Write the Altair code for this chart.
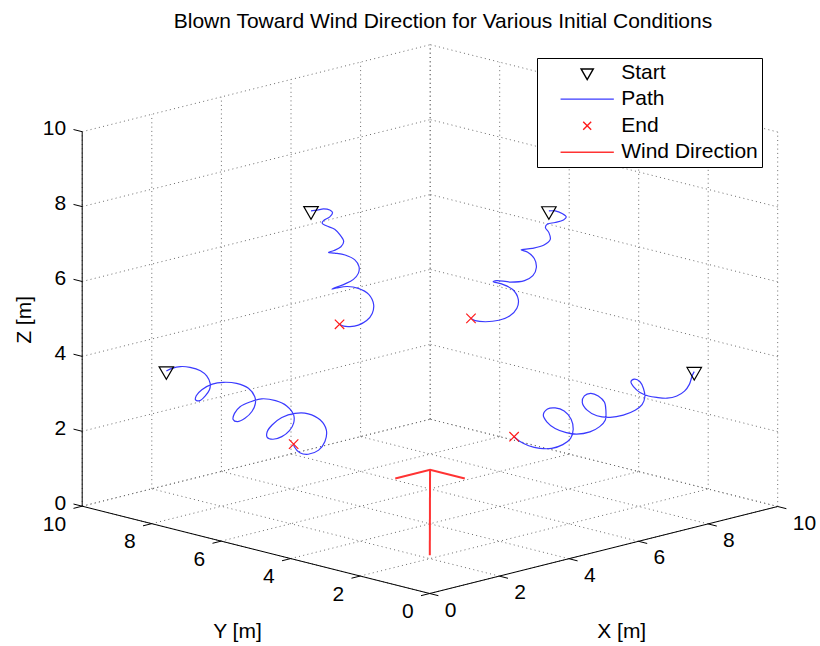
import altair as alt
import pandas as pd

FONT = "Liberation Sans"

TITLE = "Blown Toward Wind Direction for Various Initial Conditions"
TICKS = [0, 2, 4, 6, 8, 10]
TICK_LABELS = ["0", "2", "4", "6", "8", "10"]
AXIS_TITLES = ["X [m]", "Y [m]", "Z [m]"]
LEGEND_LABELS = ["Start", "Path", "End", "Wind Direction"]
LEGEND_COLORS = ["#000000", "#3a3aff", "#ff1a1a", "#ff3333"]

# ---- trajectories (metres) ----
PATH_A_X = [1.21, 1.29, 1.41, 1.55, 1.70, 1.79, 1.84, 1.83, 1.77, 1.69, 1.63, 1.64, 1.72, 1.87, 2.03, 2.22,
            2.39, 2.48, 2.49, 2.44, 2.34, 2.23, 2.17, 2.19, 2.27, 2.42, 2.58, 2.78, 2.94, 3.04, 3.04, 2.98,
            2.87, 2.74, 2.66, 2.66, 2.73, 2.87, 3.06, 3.25, 3.42, 3.51, 3.49, 3.40, 3.25, 3.13, 3.05, 3.04]
PATH_A_Y = [8.79, 8.71, 8.59, 8.45, 8.30, 8.21, 8.16, 8.17, 8.23, 8.31, 8.37, 8.36, 8.28, 8.13, 7.97, 7.78,
            7.61, 7.52, 7.51, 7.56, 7.66, 7.77, 7.83, 7.81, 7.73, 7.58, 7.42, 7.22, 7.06, 6.96, 6.96, 7.02,
            7.13, 7.26, 7.34, 7.34, 7.27, 7.13, 6.94, 6.75, 6.58, 6.49, 6.51, 6.60, 6.75, 6.87, 6.95, 6.96]
PATH_A_Z = [3.61, 3.68, 3.73, 3.71, 3.62, 3.48, 3.28, 3.11, 2.95, 2.82, 2.84, 2.95, 3.11, 3.26, 3.31, 3.28,
            3.15, 2.93, 2.75, 2.53, 2.35, 2.26, 2.32, 2.48, 2.66, 2.79, 2.87, 2.82, 2.68, 2.44, 2.22, 2.02,
            1.86, 1.79, 1.84, 1.99, 2.17, 2.37, 2.48, 2.47, 2.31, 2.04, 1.73, 1.50, 1.39, 1.43, 1.59, 1.66]

PATH_B_X = [3.29, 3.38, 3.47, 3.56, 3.60, 3.56, 3.47, 3.45, 3.51, 3.63, 3.71, 3.76, 3.72, 3.62, 3.54, 3.63,
            3.78, 3.92, 3.98, 3.97, 3.90, 3.78, 3.65, 3.59, 3.66, 3.81, 3.97, 4.12, 4.19, 4.17, 4.09, 3.97,
            3.85, 3.76, 3.70]
PATH_B_Y = [6.71, 6.62, 6.53, 6.44, 6.40, 6.44, 6.53, 6.55, 6.49, 6.37, 6.29, 6.24, 6.28, 6.38, 6.46, 6.37,
            6.22, 6.08, 6.02, 6.03, 6.10, 6.22, 6.35, 6.41, 6.34, 6.19, 6.03, 5.88, 5.81, 5.83, 5.91, 6.03,
            6.15, 6.24, 6.30]
PATH_B_Z = [7.89, 7.91, 7.94, 7.91, 7.84, 7.73, 7.63, 7.56, 7.49, 7.40, 7.24, 7.07, 6.93, 6.83, 6.78, 6.76,
            6.71, 6.58, 6.40, 6.22, 6.06, 5.94, 5.85, 5.80, 5.83, 5.87, 5.82, 5.66, 5.39, 5.15, 4.96, 4.84,
            4.80, 4.81, 4.86]

PATH_C_X = [6.71, 6.80, 6.90, 6.96, 6.92, 6.80, 6.69, 6.66, 6.71, 6.73, 6.64, 6.47, 6.31, 6.40, 6.50, 6.53,
            6.48, 6.36, 6.16, 5.96, 5.91, 6.03, 6.19, 6.27, 6.25, 6.15, 5.99, 5.80, 5.65, 5.59]
PATH_C_Y = [3.29, 3.20, 3.10, 3.04, 3.08, 3.20, 3.31, 3.34, 3.29, 3.27, 3.36, 3.53, 3.69, 3.60, 3.50, 3.47,
            3.52, 3.64, 3.84, 4.04, 4.09, 3.97, 3.81, 3.73, 3.75, 3.85, 4.01, 4.20, 4.35, 4.41]
PATH_C_Z = [7.89, 7.89, 7.82, 7.73, 7.65, 7.58, 7.54, 7.45, 7.31, 7.13, 6.98, 6.89, 6.85, 6.79, 6.62, 6.38,
            6.16, 6.03, 5.99, 6.03, 6.00, 5.94, 5.79, 5.53, 5.29, 5.09, 4.97, 4.93, 4.96, 5.02]

PATH_D_X = [8.80, 8.77, 8.73, 8.66, 8.55, 8.41, 8.26, 8.14, 8.02, 7.93, 7.89, 7.94, 8.02, 8.07, 8.09, 8.05,
            7.95, 7.78, 7.59, 7.40, 7.26, 7.19, 7.22, 7.31, 7.42, 7.51, 7.53, 7.52, 7.44, 7.30, 7.11, 6.96,
            6.80, 6.68, 6.63, 6.69, 6.80, 6.93, 7.03, 7.06, 7.02, 6.91, 6.75, 6.58, 6.42, 6.29, 6.21]
PATH_D_Y = [1.20, 1.23, 1.27, 1.34, 1.45, 1.59, 1.74, 1.86, 1.98, 2.07, 2.11, 2.06, 1.98, 1.93, 1.91, 1.95,
            2.05, 2.22, 2.41, 2.60, 2.74, 2.81, 2.78, 2.69, 2.58, 2.49, 2.47, 2.48, 2.56, 2.70, 2.89, 3.04,
            3.20, 3.32, 3.37, 3.31, 3.20, 3.07, 2.97, 2.94, 2.98, 3.09, 3.25, 3.42, 3.58, 3.71, 3.79]
PATH_D_Z = [3.60, 3.49, 3.26, 3.08, 2.95, 2.89, 2.91, 2.95, 3.04, 3.19, 3.33, 3.40, 3.33, 3.15, 2.93, 2.72,
            2.57, 2.44, 2.38, 2.42, 2.57, 2.78, 2.95, 3.02, 2.95, 2.78, 2.55, 2.30, 2.13, 1.99, 1.93, 1.97,
            2.08, 2.26, 2.44, 2.60, 2.63, 2.55, 2.33, 2.06, 1.81, 1.65, 1.55, 1.55, 1.62, 1.74, 1.86]

# wind direction arrow: shaft, then the two barbs of the head
WIND_SEG = [0, 0, 1, 1, 1]
WIND_X = [2.2, 7.1, 6.1, 7.1, 7.1]
WIND_Y = [2.2, 7.1, 7.1, 7.1, 6.1]
WIND_Z = [0.0, 0.0, 0.0, 0.0, 0.0]

# ---- orthographic camera: screen position of the origin and of one unit on each axis ----
ORIGIN = (429.7, 593.5)
UX = (34.8, -8.7)
UY = (-34.75, -8.73)
UZ = (0.0, -37.45)
PX = f"{ORIGIN[0]} + ({UX[0]})*datum.x + ({UY[0]})*datum.y + ({UZ[0]})*datum.z"
PY = f"{ORIGIN[1]} + ({UX[1]})*datum.x + ({UY[1]})*datum.y + ({UZ[1]})*datum.z"

X = alt.X("px:Q", scale=alt.Scale(domain=[0, 820], nice=False, zero=False), axis=None)
Y = alt.Y("py:Q", scale=alt.Scale(domain=[646, 0], nice=False, zero=False), axis=None)


def seg_frame(segs):
    rows = []
    for s, pts in enumerate(segs):
        for i, (x, y, z) in enumerate(pts):
            rows.append(dict(seg=s, i=i, x=x, y=y, z=z))
    return pd.DataFrame(rows)


def base(df):
    return alt.Chart(df).transform_calculate(px=PX, py=PY)


lo, hi = TICKS[0], TICKS[-1]
grid_segs = []
for t in TICKS:
    grid_segs += [
        [(t, lo, lo), (t, hi, lo)], [(lo, t, lo), (hi, t, lo)],      # floor
        [(t, hi, lo), (t, hi, hi)], [(lo, hi, t), (hi, hi, t)],      # back wall y = 10
        [(hi, t, lo), (hi, t, hi)], [(hi, lo, t), (hi, hi, t)],      # back wall x = 10
    ]
axis_segs = [[(lo, lo, lo), (hi, lo, lo)], [(lo, lo, lo), (lo, hi, lo)], [(lo, hi, lo), (lo, hi, hi)]]
TL = 0.25
tick_segs = []
for t in TICKS:
    tick_segs += [[(t, lo, lo), (t, lo - TL, lo)],
                  [(lo, t, lo), (lo - TL, t, lo)],
                  [(lo, hi, t), (lo, hi + TL, t)]]

grid_df = seg_frame(grid_segs)
axis_df = seg_frame(axis_segs)
tick_df = seg_frame(tick_segs)

paths = [(PATH_A_X, PATH_A_Y, PATH_A_Z), (PATH_B_X, PATH_B_Y, PATH_B_Z),
         (PATH_C_X, PATH_C_Y, PATH_C_Z), (PATH_D_X, PATH_D_Y, PATH_D_Z)]
path_rows, mk_rows = [], []
for p, (xs, ys, zs) in enumerate(paths):
    for i, (x, y, z) in enumerate(zip(xs, ys, zs)):
        path_rows.append(dict(seg=p, i=i, x=x, y=y, z=z))
    mk_rows.append(dict(series="Start", x=xs[0], y=ys[0], z=zs[0]))
    mk_rows.append(dict(series="End", x=xs[-1], y=ys[-1], z=zs[-1]))
path_df = pd.DataFrame(path_rows)
mk_df = pd.DataFrame(mk_rows)

wind_df = pd.DataFrame(dict(seg=WIND_SEG, x=WIND_X, y=WIND_Y, z=WIND_Z))
wind_df["i"] = range(len(wind_df))

xlab_df = pd.DataFrame(dict(x=TICKS, y=[lo] * 6, z=[lo] * 6, label=TICK_LABELS))
ylab_df = pd.DataFrame(dict(x=[lo] * 6, y=TICKS, z=[lo] * 6, label=TICK_LABELS))
zlab_df = pd.DataFrame(dict(x=[lo] * 6, y=[hi] * 6, z=TICKS, label=TICK_LABELS))
mid = (lo + hi) / 2

grid_layer = base(grid_df).mark_line(color="#6a6a6a", strokeWidth=1, strokeDash=[1, 3.3]).encode(
    x=X, y=Y, detail="seg:N", order="i:Q")
axis_layer = base(axis_df).mark_line(color="black", strokeWidth=1).encode(
    x=X, y=Y, detail="seg:N", order="i:Q")
tick_layer = base(tick_df).mark_line(color="black", strokeWidth=1).encode(
    x=X, y=Y, detail="seg:N", order="i:Q")

txt = dict(font=FONT, fontSize=21, color="black")
xlab = base(xlab_df).mark_text(align="left", baseline="middle", dx=15, dy=17, **txt).encode(x=X, y=Y, text="label:N")
ylab = base(ylab_df).mark_text(align="right", baseline="middle", dx=-16, dy=18.5, **txt).encode(x=X, y=Y, text="label:N")
zlab = base(zlab_df).mark_text(align="right", baseline="middle", dx=-16, dy=-2.5, **txt).encode(x=X, y=Y, text="label:N")

xt = base(pd.DataFrame(dict(x=[mid], y=[lo], z=[lo], t=[AXIS_TITLES[0]]))).mark_text(
    align="center", baseline="middle", dx=18, dy=82, **txt).encode(x=X, y=Y, text="t:N")
yt = base(pd.DataFrame(dict(x=[lo], y=[mid], z=[lo], t=[AXIS_TITLES[1]]))).mark_text(
    align="center", baseline="middle", dx=-18.5, dy=82, **txt).encode(x=X, y=Y, text="t:N")
# rotated text: dx runs up the page, dy runs to the right
zt = base(pd.DataFrame(dict(x=[lo], y=[hi], z=[mid], t=[AXIS_TITLES[2]]))).mark_text(
    align="center", baseline="middle", dx=-1, dy=-57, angle=270, **txt).encode(x=X, y=Y, text="t:N")

wind_layer = base(wind_df).mark_line(color=LEGEND_COLORS[3], strokeWidth=2).encode(
    x=X, y=Y, detail="seg:N", order="i:Q")
path_layer = base(path_df).mark_line(color=LEGEND_COLORS[1], strokeWidth=1.2, interpolate="catmull-rom").encode(
    x=X, y=Y, detail="seg:N", order="i:Q")

TRI = "M-1,-0.577L1,-0.577L0,1.155Z"
LINE = "M-4.35,0L4.35,0"
CROSS = "M-0.65,-0.65L0.65,0.65M-0.65,0.65L0.65,-0.65"

legend = alt.Legend(
    title=None, orient="none", legendX=537, legendY=58,
    fillColor="white", strokeColor="black", padding=4, rowPadding=4.6,
    labelFont=FONT, labelFontSize=21, labelColor="black",
    symbolSize=150, symbolStrokeWidth=1.4, symbolOffset=35.7, labelOffset=23.5,
)
markers = base(mk_df).mark_point(filled=False, size=210, strokeWidth=1.2, opacity=1).encode(
    x=X, y=Y,
    shape=alt.Shape("series:N", scale=alt.Scale(domain=LEGEND_LABELS, range=[TRI, LINE, CROSS, LINE]), legend=legend),
    color=alt.Color("series:N", scale=alt.Scale(domain=LEGEND_LABELS, range=LEGEND_COLORS), legend=legend),
)

title = alt.Chart(pd.DataFrame(dict(t=[TITLE]))).mark_text(
    align="center", baseline="middle", **txt).encode(x=alt.value(443), y=alt.value(22), text="t:N")

chart = alt.layer(
    grid_layer, axis_layer, tick_layer, xlab, ylab, zlab, xt, yt, zt,
    wind_layer, path_layer, markers, title,
).properties(
    width=820, height=646, autosize=alt.AutoSizeParams(type="none"), padding=0, background="white"
).configure_view(strokeWidth=0)

chart.save("out.html", embed_options={"renderer": "svg", "actions": False})
